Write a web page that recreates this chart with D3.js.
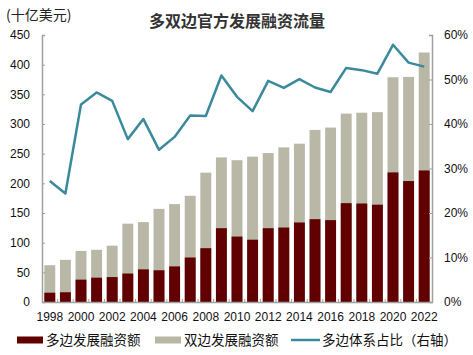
<!DOCTYPE html>
<html>
<head>
<meta charset="utf-8">
<script src="https://cdn.jsdelivr.net/npm/d3@7"></script>
<style>
  body { margin: 0; background: #fff; }
  svg { display: block; }
</style>
</head>
<body>
<div id="chart"></div>
<script>
// 数据
const years = d3.range(1998, 2023).map(String);
const multilateral = [15.7, 16.4, 37.7, 41, 42, 48, 55, 53.5, 60, 75, 90.7, 124.4, 110.3, 105, 124.4, 125.5, 134, 139.6, 138, 166.6, 166, 164, 218.4, 203.8, 221.7];
const total = [62, 71, 86, 88, 95, 132, 134.6, 157, 165, 179, 218, 243.7, 239, 245, 251, 260.6, 266.8, 290, 294, 317.5, 319, 320, 378.8, 379.4, 420.5];
const share = [27.2, 24.4, 44.4, 47.1, 45.2, 36.6, 41.1, 34.2, 37.1, 41.9, 41.8, 50.9, 46.1, 42.9, 49.7, 48.1, 50.1, 48.2, 47.2, 52.6, 52.1, 51.3, 57.8, 53.8, 52.9];
const leftTicks = d3.range(0, 451, 50);
const rightTicks = d3.range(0, 61, 10);

const W = 473, H = 355;
const margin = { left: 42, right: 41, top: 35, bottom: 53 };
const w = W - margin.left - margin.right;
const h = H - margin.top - margin.bottom;

const font = "'Liberation Sans', Arial, sans-serif";
const cjk = "'Noto Sans CJK SC', sans-serif";

const svg = d3.select("#chart").append("svg")
    .attr("width", W)
    .attr("height", H);

const g = svg.append("g")
    .attr("transform", `translate(${margin.left},${margin.top})`);

const x = d3.scaleBand().domain(years).range([0, w]).paddingInner(0.3).paddingOuter(0.15);
const y = d3.scaleLinear().domain([0, 450]).range([h, 0]);
const y2 = d3.scaleLinear().domain([0, 60]).range([h, 0]);

// 标题
svg.append("text")
    .attr("x", 237).attr("y", 27)
    .attr("text-anchor", "middle")
    .style("font-family", cjk)
    .style("font-size", "16px")
    .style("font-weight", "bold")
    .style("fill", "#333")
    .text("多双边官方发展融资流量");

svg.append("text")
    .attr("x", 6).attr("y", 20)
    .style("font-family", cjk)
    .style("font-size", "14px")
    .style("fill", "#222")
    .text("(十亿美元)");

// 柱子
g.selectAll(".bar-total")
    .data(years)
    .enter()
    .append("rect")
    .attr("class", "bar-total")
    .attr("x", d => x(d))
    .attr("width", x.bandwidth())
    .attr("y", (d, i) => y(total[i]))
    .attr("height", (d, i) => y(0) - y(total[i]))
    .attr("fill", "#b9b8a6");

g.selectAll(".bar-multi")
    .data(years)
    .enter()
    .append("rect")
    .attr("class", "bar-multi")
    .attr("x", d => x(d))
    .attr("width", x.bandwidth())
    .attr("y", (d, i) => y(multilateral[i]))
    .attr("height", (d, i) => y(0) - y(multilateral[i]))
    .attr("fill", "#600000");

// 折线
const line = d3.line()
    .x((d, i) => x(years[i]) + x.bandwidth() / 2)
    .y(d => y2(d));

g.append("path")
    .datum(share)
    .attr("d", line)
    .attr("fill", "none")
    .attr("stroke", "#3a8a9c")
    .attr("stroke-width", 2.5)
    .attr("stroke-linejoin", "round");

// 坐标轴
const axisColor = "#a0a0a0";

const yAxis = g.append("g")
    .call(d3.axisLeft(y).tickValues(leftTicks).tickSize(-3).tickPadding(12));
yAxis.selectAll("text").style("font-family", font).style("font-size", "12px").style("fill", "#111");

const yAxis2 = g.append("g")
    .attr("transform", `translate(${w},0)`)
    .call(d3.axisRight(y2).tickValues(rightTicks).tickSize(-3).tickPadding(12).tickFormat(d => d + "%"));
yAxis2.selectAll("text").style("font-family", font).style("font-size", "12px").style("fill", "#111");

const xAxis = g.append("g")
    .attr("transform", `translate(0,${h})`)
    .call(d3.axisBottom(x).tickSize(0).tickPadding(10).tickFormat((d, i) => i % 2 === 0 ? d : ""));
xAxis.selectAll("text").style("font-family", font).style("font-size", "12px").style("fill", "#111");

// x轴刻度（柱间）
g.append("g")
    .selectAll("line")
    .data(years.slice(1))
    .enter()
    .append("line")
    .attr("x1", d => x(d) - x.step() * x.paddingInner() / 2)
    .attr("x2", d => x(d) - x.step() * x.paddingInner() / 2)
    .attr("y1", h)
    .attr("y2", h - 3)
    .attr("stroke", axisColor);

g.selectAll(".domain").attr("stroke", axisColor).attr("stroke-width", 1.5);
g.selectAll(".tick line").attr("stroke", axisColor);

// 图例
const legend = svg.append("g").attr("transform", "translate(0,340)");
const items = [
    { label: "多边发展融资额", type: "rect", color: "#600000", x: 17 },
    { label: "双边发展融资额", type: "rect", color: "#b9b8a6", x: 155 },
    { label: "多边体系占比（右轴）", type: "line", color: "#3a8a9c", x: 291 }
];
items.forEach(it => {
    if (it.type === "rect") {
        legend.append("rect").attr("x", it.x).attr("y", -3.5).attr("width", 26).attr("height", 7).attr("fill", it.color);
    } else {
        legend.append("line").attr("x1", it.x).attr("x2", it.x + 29).attr("y1", 0).attr("y2", 0)
            .attr("stroke", it.color).attr("stroke-width", 2.5);
    }
    legend.append("text")
        .attr("x", it.x + (it.type === "rect" ? 29 : 31))
        .attr("y", 0)
        .attr("dy", "0.35em")
        .style("font-family", cjk)
        .style("font-size", "13.5px")
        .style("fill", "#111")
        .text(it.label);
});
</script>
</body>
</html>
